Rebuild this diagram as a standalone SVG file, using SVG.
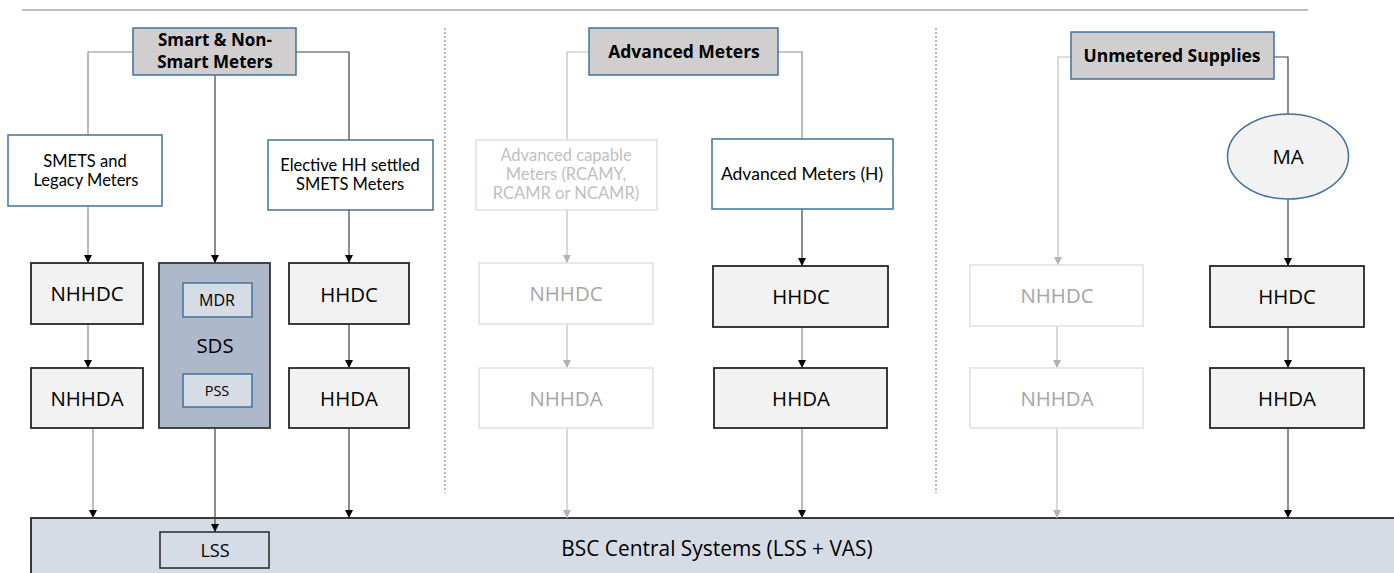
<svg xmlns="http://www.w3.org/2000/svg" width="1394" height="573" viewBox="0 0 1394 573">
<defs>
<marker id="ad" markerUnits="userSpaceOnUse" markerWidth="9" markerHeight="9" refX="8" refY="4" orient="auto"><path d="M0,0 L8,4 L0,8 z" fill="#000"/></marker>
<marker id="al" markerUnits="userSpaceOnUse" markerWidth="9" markerHeight="9" refX="8" refY="4" orient="auto"><path d="M0,0 L8,4 L0,8 z" fill="#b3b3b3"/></marker>
</defs>
<style>
.title{fill:#d0cece;stroke:#41719c;stroke-width:1.5}
.tt{font-family:"Open Sans","DejaVu Sans",sans-serif;font-weight:bold;font-size:17.5px;fill:#000;text-anchor:middle}
.meter{fill:#fff;stroke:#41719c;stroke-width:1.5}
.mt{font-family:Lato,"Liberation Sans",sans-serif;font-size:16.5px;fill:#000;text-anchor:middle}
.dk{fill:#f2f2f2;stroke:#262626;stroke-width:1.8}
.lt{fill:#fff;stroke:#e0e0e0;stroke-width:1.5}
.bt{font-family:"Open Sans","DejaVu Sans",sans-serif;font-size:20.4px;fill:#000;text-anchor:middle}
.cd{fill:none;stroke:#404040;stroke-width:1.2}
.cg{fill:none;stroke:#8c8c8c;stroke-width:1.2}
.cl{fill:none;stroke:#c0c0c0;stroke-width:1.2}
.sep{stroke:#8c8c8c;stroke-width:1.2;stroke-dasharray:2,2}
</style>
<line x1="22" y1="10" x2="1308" y2="10" stroke="#808080" stroke-width="1.2"/>
<line class="sep" x1="445" y1="28" x2="445" y2="493"/>
<line class="sep" x1="936" y1="28" x2="936" y2="493"/>

<g id="bsc">
<rect x="31" y="518" width="1370" height="60" fill="#d6dce5" stroke="#262626" stroke-width="1.8"/>
<text class="bt" x="717" y="556" style="font-size:20.9px">BSC Central Systems (LSS + VAS)</text>
</g>
<g id="lss">
<rect x="160" y="532" width="109" height="36" fill="#d6dce5" stroke="#262626" stroke-width="1.5"/>
<text class="bt" x="215" y="557" style="font-size:18px">LSS</text>
</g>

<g id="connectors">
<polyline class="cg" points="133,52 88,52 88,135"/>
<polyline class="cd" points="296,52 349,52 349,140"/>
<line class="cd" x1="215" y1="75" x2="215" y2="263" marker-end="url(#ad)"/>
<line class="cg" x1="88" y1="206" x2="88" y2="263" marker-end="url(#ad)"/>
<line class="cg" x1="88" y1="324" x2="88" y2="368" marker-end="url(#ad)"/>
<line class="cg" x1="93" y1="428" x2="93" y2="518" marker-end="url(#ad)"/>
<line class="cd" x1="215" y1="428" x2="215" y2="532" marker-end="url(#ad)"/>
<line class="cd" x1="349" y1="210" x2="349" y2="263" marker-end="url(#ad)"/>
<line class="cd" x1="349" y1="324" x2="349" y2="368" marker-end="url(#ad)"/>
<line class="cd" x1="349" y1="428" x2="349" y2="518" marker-end="url(#ad)"/>

<polyline class="cl" points="589,52 567,52 567,140"/>
<polyline class="cg" points="778,52 802,52 802,139"/>
<line class="cl" x1="567" y1="210" x2="567" y2="263" marker-end="url(#al)"/>
<line class="cl" x1="567" y1="324" x2="567" y2="368" marker-end="url(#al)"/>
<line class="cl" x1="567" y1="428" x2="567" y2="518" marker-end="url(#al)"/>
<line class="cd" x1="802" y1="209" x2="802" y2="266" marker-end="url(#ad)"/>
<line class="cg" x1="802" y1="327" x2="802" y2="368" marker-end="url(#ad)"/>
<line class="cg" x1="802" y1="428" x2="802" y2="518" marker-end="url(#ad)"/>

<polyline class="cl" points="1071,57 1058,57 1058,265" marker-end="url(#al)"/>
<polyline class="cd" points="1274,57 1288,57 1288,114"/>
<line class="cl" x1="1057" y1="326" x2="1057" y2="368" marker-end="url(#al)"/>
<line class="cl" x1="1057" y1="428" x2="1057" y2="518" marker-end="url(#al)"/>
<line class="cd" x1="1288" y1="199" x2="1288" y2="266" marker-end="url(#ad)"/>
<line class="cd" x1="1288" y1="327" x2="1288" y2="368" marker-end="url(#ad)"/>
<line class="cd" x1="1288" y1="428" x2="1288" y2="518" marker-end="url(#ad)"/>
</g>

<g id="smart-title">
<rect class="title" x="133" y="28" width="163" height="47"/>
<text class="tt" x="215" y="46" style="font-size:17px">Smart &amp; Non-</text>
<text class="tt" x="215" y="68" style="font-size:17px">Smart Meters</text>
</g>
<g id="smets">
<rect class="meter" x="8" y="135" width="154" height="71"/>
<text class="mt" x="85" y="167">SMETS and</text>
<text class="mt" x="86" y="186">Legacy Meters</text>
</g>
<g id="elective">
<rect class="meter" x="268" y="140" width="165" height="70"/>
<text class="mt" x="350" y="171">Elective HH settled</text>
<text class="mt" x="350" y="190">SMETS Meters</text>
</g>
<g id="nhhdc1"><rect class="dk" x="31" y="263" width="112" height="61"/><text class="bt" x="87" y="301">NHHDC</text></g>
<g id="nhhda1"><rect class="dk" x="31" y="368" width="112" height="60"/><text class="bt" x="87" y="406">NHHDA</text></g>
<g id="sds">
<rect x="159" y="263" width="111" height="165" fill="#adb9ca" stroke="#333" stroke-width="1.8"/>
<rect x="183" y="283" width="69" height="34" fill="#d6dce5" stroke="#41719c" stroke-width="1.5"/>
<text class="bt" x="217" y="306" style="font-size:16px">MDR</text>
<text class="bt" x="215" y="353">SDS</text>
<rect x="183" y="374" width="69" height="33" fill="#d6dce5" stroke="#41719c" stroke-width="1.5"/>
<text class="bt" x="217" y="396" style="font-size:14.5px">PSS</text>
</g>
<g id="hhdc1"><rect class="dk" x="289" y="263" width="120" height="61"/><text class="bt" x="349" y="302">HHDC</text></g>
<g id="hhda1"><rect class="dk" x="289" y="368" width="120" height="60"/><text class="bt" x="349" y="406">HHDA</text></g>

<g id="adv-title">
<rect class="title" x="589" y="28" width="189" height="47"/>
<text class="tt" x="684" y="58">Advanced Meters</text>
</g>
<g id="adv-capable">
<rect class="lt" x="476" y="140" width="181" height="70"/>
<text class="mt" x="566" y="161" style="fill:#bfbfbf">Advanced capable</text>
<text class="mt" x="566" y="180" style="fill:#bfbfbf">Meters (RCAMY,</text>
<text class="mt" x="566" y="199" style="fill:#bfbfbf">RCAMR or NCAMR)</text>
</g>
<g id="adv-h">
<rect class="meter" x="712" y="139" width="181" height="70"/>
<text class="mt" x="802" y="180" style="font-size:17.5px">Advanced Meters (H)</text>
</g>
<g id="nhhdc2"><rect class="lt" x="479" y="263" width="174" height="61"/><text class="bt" x="566" y="301" style="fill:#a6a6a6">NHHDC</text></g>
<g id="nhhda2"><rect class="lt" x="479" y="368" width="174" height="60"/><text class="bt" x="566" y="406" style="fill:#a6a6a6">NHHDA</text></g>
<g id="hhdc2"><rect class="dk" x="713" y="266" width="175" height="61"/><text class="bt" x="801" y="304">HHDC</text></g>
<g id="hhda2"><rect class="dk" x="714" y="368" width="173" height="60"/><text class="bt" x="801" y="406">HHDA</text></g>

<g id="ums-title">
<rect class="title" x="1071" y="32" width="203" height="47"/>
<text class="tt" x="1172" y="62">Unmetered Supplies</text>
</g>
<g id="ma">
<ellipse cx="1288" cy="156.5" rx="60.5" ry="42.5" fill="#f2f2f2" stroke="#41719c" stroke-width="1.5"/>
<text class="bt" x="1288" y="164">MA</text>
</g>
<g id="nhhdc3"><rect class="lt" x="970" y="265" width="173" height="61"/><text class="bt" x="1057" y="303" style="fill:#a6a6a6">NHHDC</text></g>
<g id="nhhda3"><rect class="lt" x="970" y="368" width="173" height="60"/><text class="bt" x="1057" y="406" style="fill:#a6a6a6">NHHDA</text></g>
<g id="hhdc3"><rect class="dk" x="1210" y="266" width="154" height="61"/><text class="bt" x="1287" y="304">HHDC</text></g>
<g id="hhda3"><rect class="dk" x="1210" y="368" width="154" height="60"/><text class="bt" x="1287" y="406">HHDA</text></g>
</svg>
